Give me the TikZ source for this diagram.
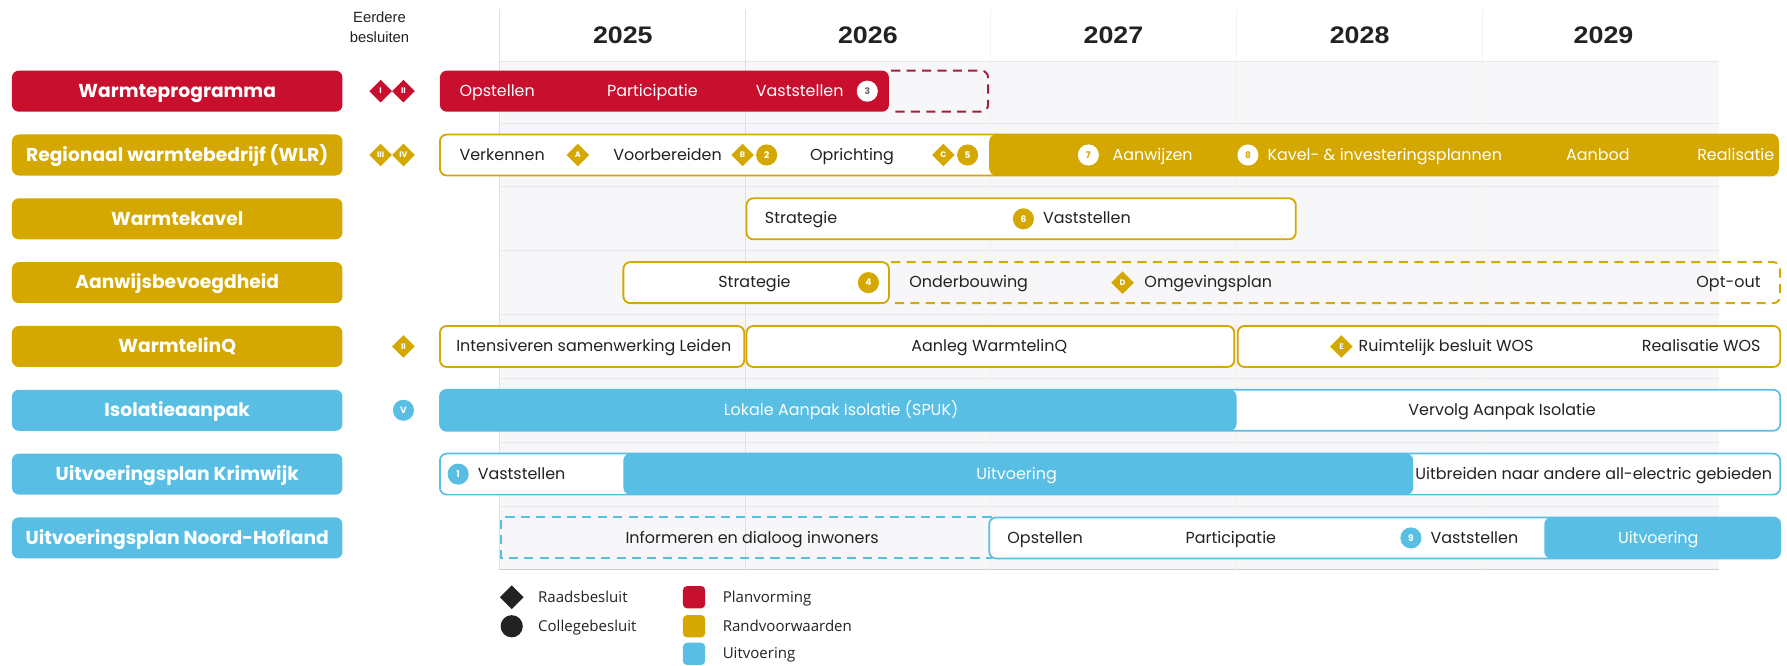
\documentclass[tikz,border=0pt]{standalone}
\usepackage{fontspec}
\setmainfont{Poppins}
\newfontfamily\arialf{Liberation Sans}
\newfontfamily\yearf[FakeStretch=1.12]{Liberation Sans}
\newfontfamily\legf{Open Sans}
\usetikzlibrary{shapes.geometric}
\definecolor{wred}{RGB}{200,16,46}
\definecolor{wredd}{RGB}{165,28,60}
\definecolor{wgold}{RGB}{212,168,0}
\definecolor{wblue}{RGB}{88,190,228}
\definecolor{gridbg}{RGB}{247,247,249}
\definecolor{gridln}{RGB}{232,232,235}
\definecolor{txt}{RGB}{34,34,34}
\begin{document}
\begin{tikzpicture}[x=1pt,y=-1pt,
  lbl/.style={rounded corners=6pt, minimum width=290pt, minimum height=36pt, text=white, font=\bfseries\fontsize{16.4}{18}\selectfont, inner sep=0, text height=11pt, text depth=0pt},
  bt/.style={font=\fontsize{14}{16}\selectfont, text=txt, inner sep=0, text height=9pt, text depth=0pt},
  wt/.style={bt, text=white},
  dia/.style={diamond, fill=#1, minimum size=20pt, inner sep=0, text=white, font=\bfseries\fontsize{7}{7}\selectfont},
  circ/.style={circle, fill=#1, minimum size=18.5pt, inner sep=0, text=white, font=\bfseries\fontsize{8}{8}\selectfont},
  barg/.style={draw=wgold, line width=1.6pt, fill=white, rounded corners=6pt},
  barb/.style={draw=wblue, line width=1.5pt, fill=white, rounded corners=6pt},
  yr/.style={font=\yearf\bfseries\fontsize{21}{21}\selectfont, text=txt},
  legt/.style={font=\legf\fontsize{13.2}{15}\selectfont, text=txt, anchor=west, inner sep=0, text height=9pt, text depth=0pt},
  dsh/.style={line width=1.7pt, dash pattern=on 8pt off 5.5pt},
]
\useasboundingbox (0,0) rectangle (1568,584);
% grid
\fill[gridbg] (438.5,53.5) rectangle (1508,500);
\foreach \yy in {108,164,220,276,332,388,444} \draw[gridln, line width=0.8pt] (438.5,\yy) -- (1508,\yy);
\draw[gridln, line width=0.8pt] (438.5,53.5) -- (1508,53.5);
\draw[black!20, line width=0.8pt] (438.5,500) -- (1508,500);
\draw[black!12, line width=0.8pt] (438.5,8) -- (438.5,500);
\draw[black!12, line width=0.8pt] (654,8) -- (654,500);
\foreach \xx in {869.5,1085,1300.5} \draw[black!5, line width=0.8pt] (\xx,8) -- (\xx,500);
% header
\node[align=center, font=\arialf\fontsize{13}{17}\selectfont, text=txt] (eb) at (333,24) {Eerdere\\besluiten};
\node[yr] (y25) at (546.5,31) {2025};
\node[yr] (y26) at (761.5,31) {2026};
\node[yr] (y27) at (977,31) {2027};
\node[yr] (y28) at (1193,31) {2028};
\node[yr] (y29) at (1407,31) {2029};
% labels
\node[lbl, fill=wred] (l1) at (155.5,80) {Warmteprogramma};
\node[lbl, fill=wgold] (l2) at (155.5,136) {Regionaal warmtebedrijf (WLR)};
\node[lbl, fill=wgold] (l3) at (155.5,192) {Warmtekavel};
\node[lbl, fill=wgold] (l4) at (155.5,248) {Aanwijsbevoegdheid};
\node[lbl, fill=wgold] (l5) at (155.5,304) {WarmtelinQ};
\node[lbl, fill=wblue] (l6) at (155.5,360) {Isolatieaanpak};
\node[lbl, fill=wblue] (l7) at (155.5,416) {Uitvoeringsplan Krimwijk};
\node[lbl, fill=wblue] (l8) at (155.5,472) {Uitvoeringsplan Noord-Hofland};
% eerdere besluiten markers
\node[dia=wred] (e1) at (334,80) {I};
\node[dia=wred] (e2) at (354,80) {II};
\node[dia=wgold] (e3) at (334,136) {III};
\node[dia=wgold] (e4) at (354,136) {IV};
\node[dia=wgold] (e5) at (354,304) {II};
\node[circ=wblue] (e6) at (354,360) {V};
% row 1
\fill[wred, rounded corners=6pt] (386,62) rectangle (780,98);
\draw[wredd, dsh, rounded corners=6pt] (782,62) -| (867,98) -- (782,98);
\node[wt, anchor=west] (r1a) at (403,80) {Opstellen};
\node[wt] (r1b) at (572.5,80) {Participatie};
\node[wt] (r1c) at (701.7,80) {Vaststellen};
\node[circ=white, text=black!60] (m3) at (761,80) {3};
% row 2
\draw[barg] (386,118) rectangle (1560,154);
\fill[wgold, rounded corners=6pt] (868,118) rectangle (1560,154);
\node[bt, anchor=west] (r2a) at (403,136) {Verkennen};
\node[dia=wgold] (mA) at (507,136) {A};
\node[bt] (r2b) at (585.7,136) {Voorbereiden};
\node[dia=wgold] (mB) at (651.6,136) {B};
\node[circ=wgold] (m2) at (672.7,136) {2};
\node[bt] (r2c) at (747.6,136) {Oprichting};
\node[dia=wgold] (mC) at (827.7,136) {C};
\node[circ=wgold] (m5) at (849,136) {5};
\node[circ=white, text=wgold] (m7) at (955,136) {7};
\node[wt, anchor=west] (r2d) at (976,136) {Aanwijzen};
\node[circ=white, text=wgold] (m8) at (1095,136) {8};
\node[wt, anchor=west] (r2e) at (1112,136) {Kavel- \& investeringsplannen};
\node[wt] (r2f) at (1402,136) {Aanbod};
\node[wt, anchor=east] (r2g) at (1557,136) {Realisatie};
% row 3
\draw[barg] (655,174) rectangle (1137,210);
\node[bt, anchor=west] (r3a) at (671,192) {Strategie};
\node[circ=wgold] (m6) at (898,192) {6};
\node[bt, anchor=west] (r3b) at (915,192) {Vaststellen};
% row 4
\draw[barg] (547,230) rectangle (780,266);
\draw[wgold, dsh, rounded corners=6pt] (782,230) -| (1562,266) -- (782,266);
\node[bt] (r4a) at (662,248) {Strategie};
\node[circ=wgold] (m4) at (762,248) {4};
\node[bt] (r4b) at (850,248) {Onderbouwing};
\node[dia=wgold] (mD) at (985,248) {D};
\node[bt, anchor=west] (r4c) at (1004,248) {Omgevingsplan};
\node[bt, anchor=east] (r4d) at (1545,248) {Opt-out};
% row 5
\draw[barg] (386,286) rectangle (653,322);
\draw[barg] (655,286) rectangle (1083,322);
\draw[barg] (1086,286) rectangle (1562,322);
\node[bt] (r5a) at (521,304) {Intensiveren samenwerking Leiden};
\node[bt] (r5b) at (868,304) {Aanleg WarmtelinQ};
\node[dia=wgold] (mE) at (1177,304) {E};
\node[bt, anchor=west] (r5c) at (1192,304) {Ruimtelijk besluit WOS};
\node[bt, anchor=east] (r5d) at (1545,304) {Realisatie WOS};
% row 6
\draw[barb] (386,342) rectangle (1562,378);
\fill[wblue, rounded corners=6pt] (386,342) rectangle (1085,378);
\node[wt] (r6a) at (738,360) {Lokale Aanpak Isolatie (SPUK)};
\node[bt] (r6b) at (1318,360) {Vervolg Aanpak Isolatie};
% row 7
\draw[barb] (386,398) rectangle (1562,434);
\fill[wblue, rounded corners=6pt] (547,398) rectangle (1240,434);
\node[circ=wblue] (m1) at (402,416) {1};
\node[bt, anchor=west] (r7a) at (419,416) {Vaststellen};
\node[wt] (r7b) at (892,416) {Uitvoering};
\node[bt, anchor=east] (r7c) at (1555,416) {Uitbreiden naar andere all-electric gebieden};
% row 8
\draw[wblue, dsh] (870,454) -- (440,454) -- (440,490) -- (870,490);
\draw[barb] (868,454) rectangle (1562,490);
\fill[wblue, rounded corners=6pt] (1355,454) rectangle (1562,490);
\node[bt] (r8a) at (660,472) {Informeren en dialoog inwoners};
\node[bt] (r8b) at (917,472) {Opstellen};
\node[bt] (r8c) at (1080,472) {Participatie};
\node[circ=wblue] (m9) at (1238,472) {9};
\node[bt, anchor=west] (r8d) at (1255,472) {Vaststellen};
\node[wt] (r8e) at (1455,472) {Uitvoering};
% legend
\node[diamond, fill=txt, minimum size=21pt, inner sep=0] (lg1) at (449,524) {};
\node[circle, fill=txt, minimum size=19.5pt, inner sep=0] (lg2) at (449,549.5) {};
\node[legt] (lt1) at (472,524) {Raadsbesluit};
\node[legt] (lt2) at (472,549.5) {Collegebesluit};
\node[fill=wred, rounded corners=3.5pt, minimum size=19.5pt, inner sep=0] (lg3) at (609,524) {};
\node[fill=wgold, rounded corners=3.5pt, minimum size=19.5pt, inner sep=0] (lg4) at (609,549.5) {};
\node[fill=wblue, rounded corners=3.5pt, minimum size=19.5pt, inner sep=0] (lg5) at (609,573.7) {};
\node[legt] (lt3) at (634,524) {Planvorming};
\node[legt] (lt4) at (634,549.5) {Randvoorwaarden};
\node[legt] (lt5) at (634,573.7) {Uitvoering};
\end{tikzpicture}
\end{document}
